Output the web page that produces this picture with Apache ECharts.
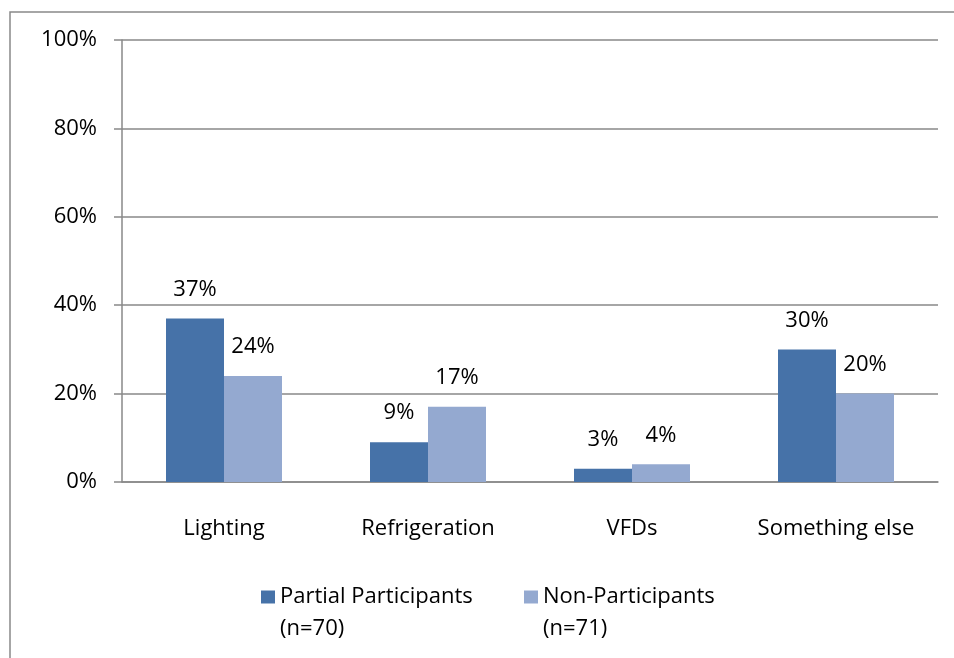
<!DOCTYPE html>
<html>
<head>
<meta charset="utf-8">
<script src="https://cdn.jsdelivr.net/npm/echarts@6/dist/echarts.min.js"></script>
<style>
  html, body { margin: 0; padding: 0; background: #fff; }
  #chart { width: 954px; height: 658px; }
</style>
</head>
<body>
<div id="chart"></div>
<script>
const categories = ['Lighting', 'Refrigeration', 'VFDs', 'Something else']
const partialValues = [37, 9, 3, 30]
const nonValues = [24, 17, 4, 20]
const seriesNames = ['Partial Participants\n(n=70)', 'Non-Participants\n(n=71)']
const yTicks = [0, 20, 40, 60, 80, 100]

const font = '"Open Sans", Lato, sans-serif'
const fontSize = 22
const gridColor = '#898989'

const chart = echarts.init(document.getElementById('chart'))

const option = {
  animation: false,
  backgroundColor: '#fff',
  graphic: [
    {
      type: 'rect',
      shape: { x: 10, y: 12, width: 980, height: 700 },
      style: { fill: 'none', stroke: gridColor, lineWidth: 1.5 },
      z: -1,
    },
  ],
  grid: {
    left: 122,
    right: 16,
    top: 40,
    bottom: 176,
  },
  legend: {
    left: 261,
    top: 549,
    padding: 0,
    itemWidth: 14,
    itemHeight: 13,
    itemGap: 44,
    icon: 'rect',
    // leading blank line so the first text line sits level with the icon
    formatter: (name) => ' \n' + name,
    textStyle: {
      fontFamily: font,
      fontSize: fontSize,
      color: '#000',
      lineHeight: 32,
      width: 200,
    },
    data: seriesNames,
  },
  xAxis: {
    type: 'category',
    data: categories,
    axisLine: { lineStyle: { color: gridColor, width: 1.5 } },
    axisTick: { length: 8, lineStyle: { color: gridColor, width: 1.5 } },
    axisLabel: {
      margin: 36,
      color: '#000',
      fontFamily: font,
      fontSize: fontSize,
    },
  },
  yAxis: {
    type: 'value',
    min: yTicks[0],
    max: yTicks[yTicks.length - 1],
    interval: 20,
    axisLine: { show: true, lineStyle: { color: gridColor, width: 1.5 } },
    axisTick: { show: true, length: 8, lineStyle: { color: gridColor, width: 1.5 } },
    splitLine: { lineStyle: { color: gridColor, width: 1.5 } },
    axisLabel: {
      margin: 25,
      color: '#000',
      fontFamily: font,
      fontSize: fontSize,
      formatter: '{value}%',
    },
  },
  series: [
    {
      name: seriesNames[0],
      type: 'bar',
      data: partialValues,
      barWidth: 58,
      barGap: '0%',
      itemStyle: { color: '#4672A8' },
      label: {
        show: true,
        position: 'top',
        distance: 18,
        color: '#000',
        fontFamily: font,
        fontSize: fontSize,
        formatter: '{c}%',
      },
    },
    {
      name: seriesNames[1],
      type: 'bar',
      data: nonValues,
      barWidth: 58,
      barGap: '0%',
      itemStyle: { color: '#94A9D0' },
      label: {
        show: true,
        position: 'top',
        distance: 18,
        color: '#000',
        fontFamily: font,
        fontSize: fontSize,
        formatter: '{c}%',
      },
    },
  ],
}

chart.setOption(option)
</script>
</body>
</html>
